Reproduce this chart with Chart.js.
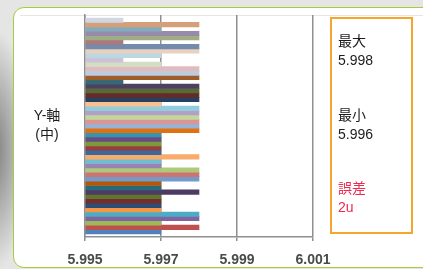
<!DOCTYPE html>
<html>
<head>
<meta charset="utf-8">
<script src="https://cdn.jsdelivr.net/npm/chart.js@4.4.1/dist/chart.umd.min.js"></script>
<style>
  html, body { margin: 0; padding: 0; width: 423px; height: 269px; overflow: hidden; }
  body {
    position: relative;
    font-family: "Liberation Sans", "Noto Sans CJK JP", sans-serif;
    background:
      radial-gradient(ellipse 38px 120px at -6px 150px, rgba(120,120,120,0.95) 0%, rgba(200,200,200,0) 100%),
      #e5e5e5;
  }
  #card {
    position: absolute; left: 13px; top: 7px; width: 440px; height: 259px;
    background: #fff; border: 1.5px solid #a6cc3c; border-radius: 11px;
  }
  #topline { position: absolute; left: 20px; top: 15px; width: 410px; border-top: 1px solid #e6e6e6; }
  #chart { position: absolute; left: 0; top: 0; }
  .txt { position: absolute; font-size: 14px; line-height: 19px; color: #1c1c1c; white-space: nowrap; }
  #ytitle { left: 22px; top: 106px; width: 50px; text-align: center; }
  #panel {
    position: absolute; left: 330px; top: 17px; width: 79px; height: 213px;
    border: 2px solid #f6a52e;
  }
  .red { color: #ee2a50; }
</style>
</head>
<body>
<div id="card"></div>
<div id="topline"></div>
<canvas id="chart" width="423" height="269"></canvas>
<div class="txt" id="ytitle">Y-軸<br>(中)</div>
<div id="panel"></div>
<div class="txt" style="left:338px; top:32px;">最大<br>5.998</div>
<div class="txt" style="left:338px; top:106px;">最小<br>5.996</div>
<div class="txt red" style="left:338px; top:179px;">誤差<br>2u</div>

<script>
// valeurs lues de bas en haut (1er point = barre du bas)
const VALUES = [
  5.997, 5.998, 5.997, 5.998, 5.998, 5.997, 5.997, 5.997, 5.997, 5.998,
  5.997, 5.997, 5.998, 5.998, 5.998, 5.997, 5.997, 5.998, 5.997, 5.997,
  5.997, 5.997, 5.997, 5.998, 5.998, 5.998, 5.998, 5.998, 5.998, 5.997,
  5.998, 5.998, 5.998, 5.998, 5.996, 5.998, 5.998, 5.998, 5.997, 5.996,
  5.997, 5.998, 5.998, 5.996, 5.998, 5.998, 5.997, 5.998, 5.996,
];
const POINTS = VALUES.map((_, i) => i + 1);

const X_MIN = 5.995;
const X_MAX = 6.001;
const X_STEP = 0.002;

// palette Excel 2007 (couleurs par point)
const PALETTE = [
  '#4F81BD', '#C0504D', '#9BBB59', '#8064A2', '#4BACC6', '#F79646',
  '#2C4D75', '#772C2A', '#5F7530', '#4D3B62', '#276A7C', '#B65708',
  '#729ACA', '#CD7371', '#AFC97A', '#9983B5', '#6FBDD1', '#F9AB6B',
  '#3A679C', '#9A3D3A', '#7C9A3C', '#654D84', '#3595AE', '#E2700E',
  '#95B3D7', '#D99694', '#C3D69B', '#B2A1C7', '#93CDDD', '#FAC090',
  '#254061', '#632523', '#4F6228', '#3F3151', '#205867', '#974806',
  '#B9CDE5', '#E6B9B8', '#D7E4BD', '#CCC1DA', '#B7DEE8', '#FCD5B5',
  '#376092', '#953735', '#77933C', '#604A7B', '#31859C', '#E46C0A',
  '#DCE6F2',
];

// le haut du graphique est délavé (gris clair) sur la capture
const FADE_TO = [200, 202, 212];
function fade(hex, t) {
  const n = parseInt(hex.slice(1), 16);
  const rgb = [n >> 16, (n >> 8) & 255, n & 255];
  const m = rgb.map((c, k) => Math.round(c + (FADE_TO[k] - c) * t));
  return `rgb(${m[0]},${m[1]},${m[2]})`;
}
const colors = POINTS.map((_, i) => {
  const t = Math.min(1, Math.max(0, (i - 30) / 16)) * 0.55;
  return fade(PALETTE[i % PALETTE.length], t);
});

const PAD = 0.68; // marge haut/bas de la zone de tracé (en barres)
const GRID = '#8f8f8f';

new Chart(document.getElementById('chart'), {
  type: 'bar',
  data: {
    labels: POINTS,
    datasets: [{
      data: VALUES.map((v, i) => ({ x: v, y: i })),
      backgroundColor: colors,
      borderWidth: 0,
      base: X_MIN,
      barThickness: 'flex',
      barPercentage: 1,
      categoryPercentage: 1,
    }],
  },
  options: {
    indexAxis: 'y',
    responsive: false,
    animation: false,
    events: [],
    layout: { padding: { left: 85, right: 110, top: 15, bottom: 0 } },
    plugins: { legend: { display: false }, tooltip: { enabled: false } },
    scales: {
      x: {
        type: 'linear',
        min: X_MIN,
        max: X_MAX,
        afterFit: axis => { axis.height = 32; },
        ticks: {
          stepSize: X_STEP,
          padding: 11,
          color: '#4a4a4a',
          font: { family: 'Liberation Sans', size: 14, weight: 'bold' },
          callback: v => Number(v).toFixed(3),
          maxRotation: 0,
          autoSkip: false,
        },
        grid: { color: GRID, lineWidth: 1.5, tickLength: 4, tickColor: GRID },
        border: { color: GRID, width: 1.5 },
      },
      y: {
        type: 'linear',
        offset: false,
        bounds: 'data',
        min: -0.5 - PAD,
        max: VALUES.length - 0.5 + PAD,
        afterFit: axis => { axis.width = 0; },
        ticks: { display: false, stepSize: 10 },
        grid: { display: false, drawTicks: false },
        border: { display: true, color: GRID, width: 1.5 },
      },
    },
  },
});
</script>
</body>
</html>
